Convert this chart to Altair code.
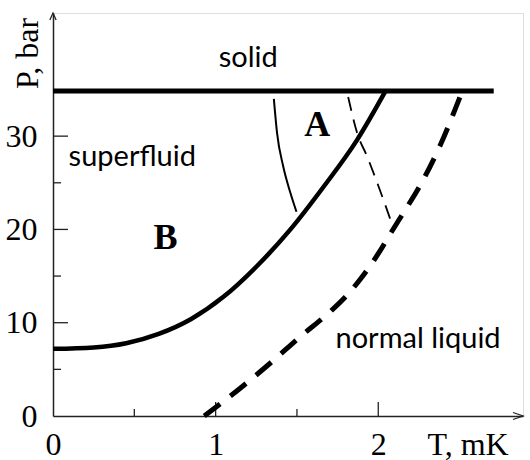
import altair as alt
import pandas as pd

# Phase diagram of liquid 3He: temperature in mK, pressure in bar
melt_T = [0.0, 2.71]
melt_P = [34.85, 34.85]

tc_T = [0.0, 0.25, 0.45, 0.65, 0.85, 1.05, 1.25, 1.46, 1.665, 1.87, 2.045]
tc_P = [7.2, 7.35, 7.8, 8.8, 10.4, 12.8, 16.0, 20.0, 24.6, 29.6, 34.85]

ab_T = [1.358, 1.378, 1.415, 1.460, 1.497]
ab_P = [34.0, 30.3, 26.8, 23.9, 21.9]

thin_dash_T = [1.815, 1.871, 1.932, 2.025, 2.092]
thin_dash_P = [34.2, 30.3, 27.8, 23.5, 20.2]

thick_dash_T = [0.93, 1.153, 1.337, 1.522, 1.706, 1.8, 1.9, 2.0, 2.08, 2.148, 2.26, 2.383, 2.517]
thick_dash_P = [0.0, 3.0, 5.68, 8.53, 11.21, 12.8, 14.9, 17.4, 19.7, 21.6, 24.8, 29.1, 34.85]

# region labels
sans_text = ["solid", "superfluid", "normal liquid"]
sans_T = [1.20, 0.096, 1.737]
sans_P = [37.4, 26.8, 7.29]
sans_align = ["center", "left", "left"]

bold_text = ["A", "B"]
bold_T = [1.625, 0.691]
bold_P = [29.97, 17.9]

# axis ticks
y_major = [10, 20, 30]
y_minor = [5, 15, 25]
x_major = [1, 2]
x_minor = [0.5, 1.5]

T_MAX = 2.89
P_MAX = 43.2
W, H = 470, 403

xs = alt.Scale(domain=[0, T_MAX], nice=False, zero=False)
ys = alt.Scale(domain=[0, P_MAX], nice=False, zero=False)

SERIF = "Liberation Serif"
SANS = "Lato"

x_axis = alt.Axis(
    values=[0, 1, 2], format="d", ticks=False, tickSize=0, grid=False,
    domainColor="#222", domainWidth=1.5, labelFont=SERIF, labelFontSize=32,
    labelColor="black", labelPadding=13, labelFlush=False,
    title="T, mK", titleFont=SERIF, titleFontSize=32, titleFontWeight="normal",
    titleColor="black", titleX=374, titleY=38, titleAlign="left",
    titleBaseline="alphabetic", titleAnchor="start",
)
y_axis = alt.Axis(
    values=[0, 10, 20, 30], format="d", ticks=False, tickSize=0, grid=False,
    domainColor="#222", domainWidth=1.5, labelFont=SERIF, labelFontSize=32,
    labelColor="black", labelPadding=16, labelFlush=False,
    title="P, bar", titleFont=SERIF, titleFontSize=32, titleFontWeight="normal",
    titleColor="black", titleX=-26, titleY=40, titleAngle=270,
    titleAlign="center", titleBaseline="middle",
)

X = lambda: alt.X("T:Q", scale=xs, axis=x_axis)
Y = lambda: alt.Y("P:Q", scale=ys, axis=y_axis)


def curve(T, P):
    return pd.DataFrame({"T": T, "P": P})


def line_layer(df, width, dash=None):
    kw = dict(color="black", strokeWidth=width, interpolate="monotone",
              strokeCap="butt")
    if dash:
        kw["strokeDash"] = dash
    return alt.Chart(df).mark_line(**kw).encode(x=X(), y=Y())


melt = line_layer(curve(melt_T, melt_P), 5)
tc = line_layer(curve(tc_T, tc_P), 4.5)
ab = line_layer(curve(ab_T, ab_P), 2)
thin_dash = line_layer(curve(thin_dash_T, thin_dash_P), 1.8, dash=[14, 9])
thick_dash = line_layer(curve(thick_dash_T, thick_dash_P), 5, dash=[20, 13])


# inward-pointing ticks
def y_ticks(vals, length):
    return alt.Chart(pd.DataFrame({"P": vals})).mark_rule(
        color="#222", strokeWidth=1.3
    ).encode(y=Y(), x=alt.value(0), x2=alt.value(length))


def x_ticks(vals, length):
    return alt.Chart(pd.DataFrame({"T": vals})).mark_rule(
        color="#222", strokeWidth=1.3
    ).encode(x=X(), y=alt.value(H), y2=alt.value(H - length))


ticks = y_ticks(y_major, 15) + y_ticks(y_minor, 8) + x_ticks(x_major, 14) + x_ticks(x_minor, 7)

# arrow heads at the ends of both axes
up_arrow = alt.Chart(pd.DataFrame({"T": [0.0], "P": [P_MAX]})).mark_point(
    shape="M-0.45,1L0,0L0.45,1", size=196, filled=False, color="#222",
    strokeWidth=1.3, opacity=1
).encode(x=X(), y=Y())
right_arrow = alt.Chart(pd.DataFrame({"T": [T_MAX], "P": [0.0]})).mark_point(
    shape="M-1,-0.35L0,0L-1,0.35", size=400, filled=False, color="#222",
    strokeWidth=1.3, opacity=1
).encode(x=X(), y=Y())

sans_df = pd.DataFrame({"label": sans_text, "T": sans_T, "P": sans_P, "al": sans_align})
labels = alt.layer(*[
    alt.Chart(sans_df[sans_df["al"] == a]).mark_text(
        font=SANS, fontSize=29, align=a, baseline="alphabetic", color="black"
    ).encode(x=X(), y=Y(), text="label:N")
    for a in ["center", "left"]
])
bold_labels = alt.Chart(pd.DataFrame({"label": bold_text, "T": bold_T, "P": bold_P})).mark_text(
    font=SERIF, fontSize=36, fontWeight="bold", align="center",
    baseline="alphabetic", color="black"
).encode(x=X(), y=Y(), text="label:N")

chart = alt.layer(
    melt, ticks, tc, ab, thin_dash, thick_dash, up_arrow, right_arrow, labels, bold_labels
).properties(
    width=W, height=H,
    autosize=alt.AutoSizeParams(type="none"),
    padding={"left": 53, "right": 7, "top": 13, "bottom": 44},
).configure_view(strokeWidth=0).configure(background="white")

chart.save("out.html", embed_options={"renderer": "svg", "actions": False})
